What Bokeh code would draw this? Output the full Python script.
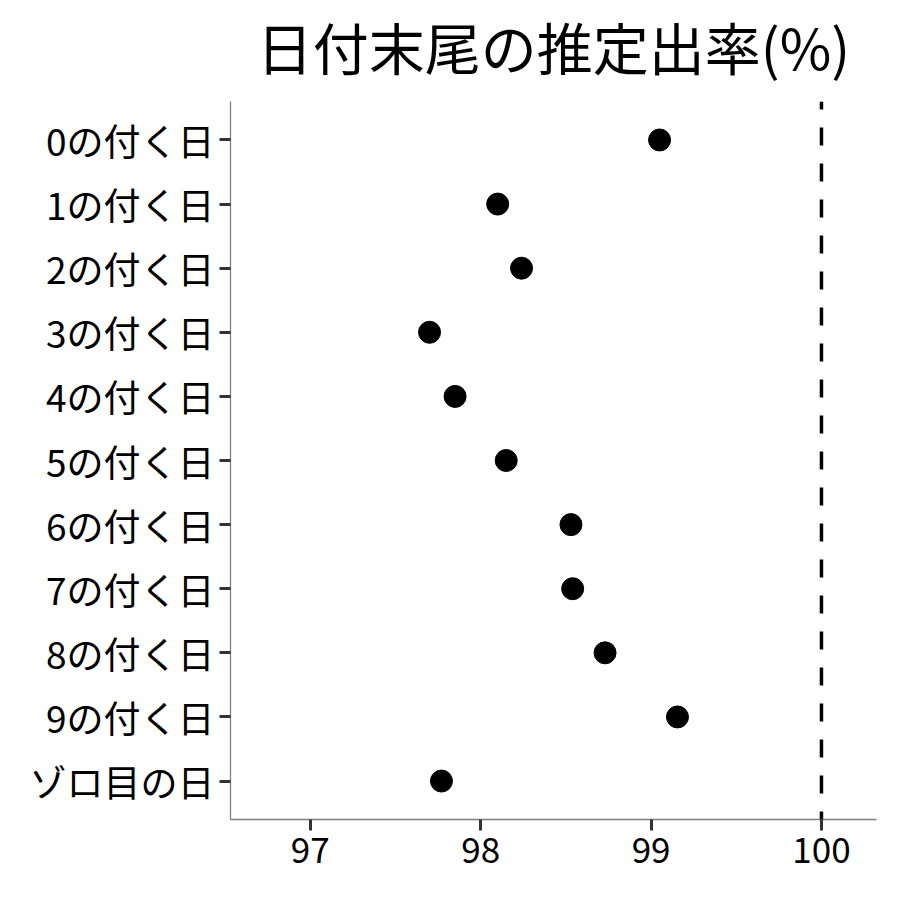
from bokeh.plotting import figure
from bokeh.models import Range1d, FixedTicker, Span
from bokeh.embed import file_html
from bokeh.resources import INLINE

# ---- data ----
categories = ["0の付く日", "1の付く日", "2の付く日", "3の付く日", "4の付く日",
              "5の付く日", "6の付く日", "7の付く日", "8の付く日", "9の付く日",
              "ゾロ目の日"]
rates = [99.05, 98.10, 98.24, 97.70, 97.85, 98.15, 98.53, 98.54, 98.73, 99.155, 97.77]
x_ticks = [97, 98, 99, 100]
reference_rate = 100
title_text = "日付末尾の推定出率(%)"

FONT = "Noto Sans CJK JP"

n = len(categories)
ypos = [n - i for i in range(n)]  # first category at the top

p = figure(width=884, height=898, output_backend="svg", toolbar_location=None,
           x_range=Range1d(96.532, 100.323), y_range=Range1d(0.4, n + 0.6),
           min_border_left=230, min_border_right=8, min_border_top=115,
           min_border_bottom=65, title=title_text)
p.styles = {"position": "relative", "top": "-14px"}

p.title.text_font = FONT
p.title.text_font_size = "56px"
p.title.text_font_style = "normal"
p.title.align = "center"
p.title.text_color = "black"
p.title.standoff = 32

p.outline_line_color = None
p.xgrid.visible = False
p.ygrid.visible = False
p.background_fill_color = "white"
p.border_fill_color = "white"

span = Span(location=reference_rate, dimension="height", line_color="black",
            line_width=3.5, line_dash="18 18", line_dash_offset=10)
p.add_layout(span)

p.scatter(x=rates, y=ypos, size=22, fill_color="black", line_color="black")

for ax in (p.xaxis[0], p.yaxis[0]):
    ax.axis_line_color = "#808080"
    ax.axis_line_width = 1.3
    ax.major_tick_line_color = "#333333"
    ax.major_tick_line_width = 3
    ax.major_tick_out = 11
    ax.major_tick_in = 0
    ax.minor_tick_line_color = None
    ax.major_label_text_font = FONT
    ax.major_label_text_color = "black"

p.xaxis.major_label_text_font_size = "35px"
p.yaxis.major_label_text_font_size = "37px"
p.xaxis.ticker = FixedTicker(ticks=x_ticks)
p.xaxis.major_label_standoff = 6
p.yaxis.ticker = FixedTicker(ticks=ypos)
p.yaxis.major_label_overrides = {y: c for y, c in zip(ypos, categories)}
p.yaxis.major_label_standoff = 5

open("out.html", "w").write(file_html(p, INLINE))
